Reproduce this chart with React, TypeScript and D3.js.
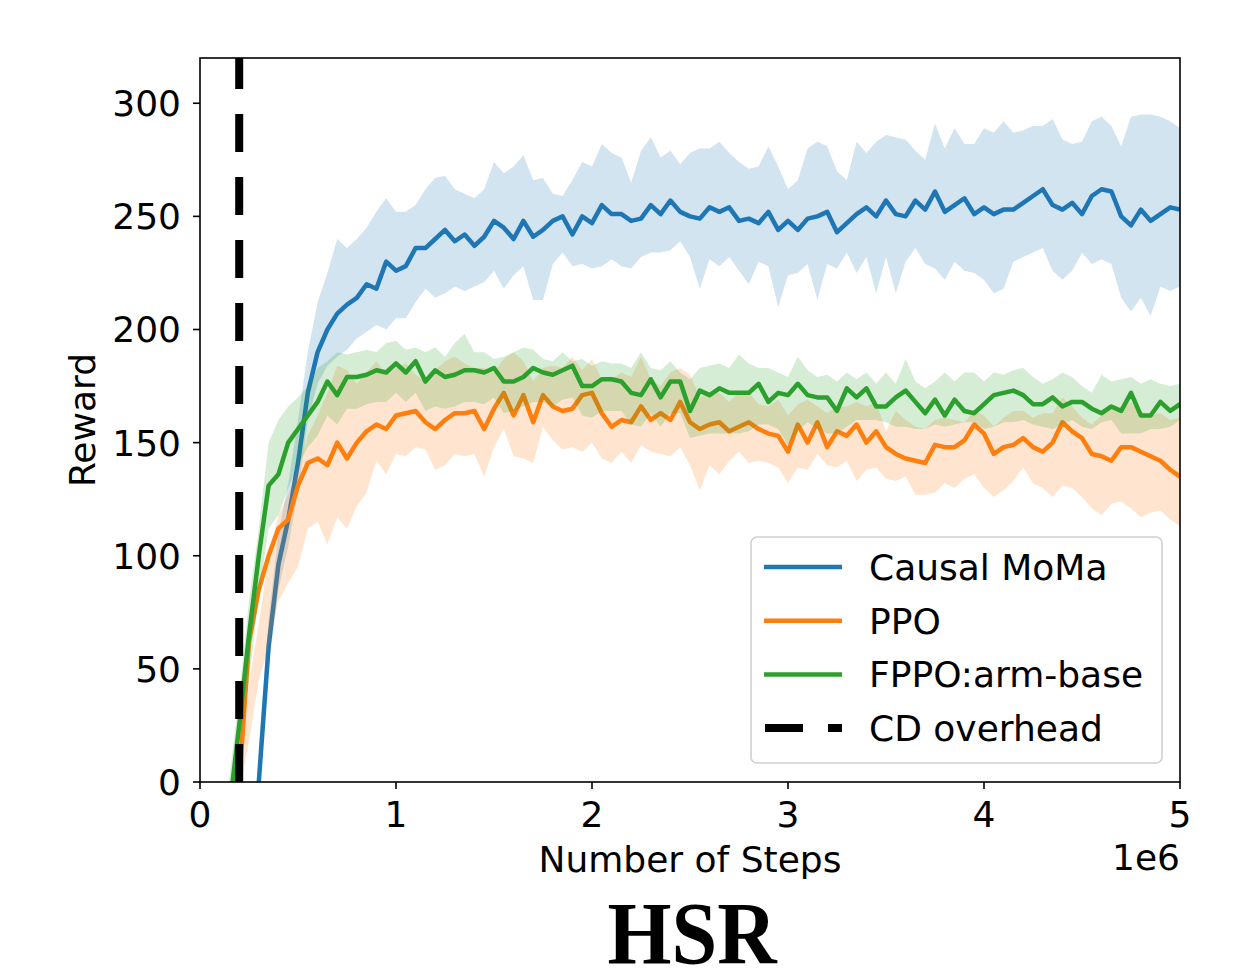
import { scaleLinear, line, area, range } from "d3";

const width = 1234;
const height = 970;
const margin = { left: 200, right: 54, top: 58, bottom: 188 };
const innerW = width - margin.left - margin.right;
const innerH = height - margin.top - margin.bottom;

// x grid: 0.15e6 .. 5.0e6 every 0.05e6 (98 points)
const steps = range(98).map((i) => (0.15 + i * 0.05) * 1e6);

const moMaMean = [
  null, null, null,
  0, 60, 96, 116, 141, 172, 190, 200, 207, 211, 214, 220, 218, 230, 226,
  228, 236, 236, 240, 244, 239, 242, 237, 241, 248,
  245, 240, 248, 241, 244, 248, 250, 242, 250, 247,
  255, 251, 251, 248, 249, 255, 251, 257, 252, 250,
  249, 254, 252, 254, 248, 249, 247, 252, 244, 248,
  244, 249, 250, 252, 243, 247, 251, 254, 250, 257,
  251, 250, 257, 253, 261, 252, 255, 258, 251, 254,
  251, 253, 253, 256, 259, 262, 255, 253, 256, 251,
  259, 262, 261, 250, 246, 253, 248, 251, 254, 253,
];
const moMaUpper = [
  null, null, null,
  15, 72, 110, 132, 160, 190, 212, 225, 240, 236, 240, 245, 252, 258, 252,
  252, 255, 262, 267, 268, 262, 260, 258, 262, 274,
  269, 272, 277, 266, 267, 260, 259, 266, 274, 272,
  282, 278, 276, 265, 279, 285, 276, 279, 273, 278,
  280, 280, 283, 278, 274, 271, 272, 281, 272, 262,
  266, 280, 283, 281, 270, 266, 283, 278, 283, 286,
  285, 284, 279, 275, 291, 280, 289, 282, 282, 289,
  287, 292, 287, 288, 290, 290, 293, 284, 282, 283,
  292, 294, 290, 281, 294, 295, 295, 294, 292, 289,
];
const moMaLower = [
  null, null, null,
  -5, 50, 85, 104, 128, 160, 176, 184, 188, 191, 196, 199, 202, 200, 205,
  205, 212, 218, 214, 216, 219, 217, 219, 221, 226,
  218, 224, 228, 213, 213, 229, 234, 228, 229, 227,
  228, 231, 228, 227, 232, 234, 234, 235, 239, 232,
  218, 231, 228, 232, 226, 220, 230, 228, 210, 224,
  225, 229, 213, 229, 227, 234, 225, 232, 216, 232,
  216, 230, 236, 229, 227, 222, 230, 226, 225, 222,
  216, 218, 230, 232, 234, 236, 226, 222, 226, 234,
  229, 231, 229, 214, 208, 214, 206, 219, 217, 219,
];

const ppoMean = [
  null,
  0, 62, 85, 100, 112, 116, 131,
  141, 143, 140, 150, 143, 150, 155, 158, 156, 162,
  163, 164, 159, 156, 160, 163, 163, 164, 156, 165,
  172, 162, 171, 159, 171, 166, 164, 165, 171, 172,
  163, 157, 160, 159, 166, 160, 163, 160, 168, 159,
  156, 158, 159, 155, 157, 159, 156, 154, 153, 146,
  158, 150, 159, 148, 155, 153, 158, 150, 155, 148,
  145, 143, 142, 141, 149, 148, 148, 151, 158, 154,
  145, 148, 149, 152, 148, 146, 150, 159, 155, 152,
  145, 144, 142, 148, 148, 146, 144, 142, 138, 135,
];
const ppoUpper = [
  null,
  8, 44, 70, 100, 118, 127, 139,
  153, 162, 172, 184, 182, 176, 181, 186, 180, 183,
  185, 180, 177, 182, 186, 188, 185, 183, 183, 181,
  187, 190, 186, 177, 183, 184, 183, 188, 182, 187,
  178, 178, 181, 179, 188, 178, 175, 181, 183, 180,
  170, 172, 172, 168, 172, 172, 167, 166, 169, 162,
  167, 169, 166, 163, 166, 166, 168, 166, 168, 155,
  164, 160, 157, 156, 160, 161, 160, 159, 164, 162,
  157, 161, 164, 164, 161, 163, 163, 170, 166, 161,
  158, 162, 165, 166, 168, 164, 162, 163, 160, 161,
];
const ppoLower = [
  null,
  -5, 18, 45, 60, 80, 88, 95,
  112, 115, 105, 117, 112, 122, 128, 142, 136, 145,
  144, 148, 147, 138, 140, 145, 144, 145, 135, 148,
  156, 144, 143, 141, 157, 151, 147, 148, 146, 150,
  143, 141, 146, 141, 149, 146, 145, 144, 148, 140,
  129, 140, 136, 142, 146, 141, 142, 141, 139, 132,
  139, 138, 145, 140, 139, 142, 133, 138, 139, 134,
  133, 135, 127, 127, 128, 132, 130, 134, 136, 130,
  126, 129, 133, 139, 132, 130, 126, 131, 130, 126,
  121, 118, 123, 124, 121, 117, 119, 120, 116, 113,
];

const fppoMean = [
  -12, 25, 65, 100, 131, 136, 150, 156,
  162, 168, 177, 171, 179, 179, 180, 182, 181, 185,
  181, 186, 177, 182, 179, 180, 182, 182, 181, 183,
  177, 177, 179, 183, 181, 180, 182, 184, 175, 175,
  178, 178, 177, 172, 171, 178, 170, 177, 177, 164,
  173, 171, 174, 172, 172, 172, 176, 168, 172, 171,
  176, 171, 170, 170, 164, 174, 170, 174, 166, 166,
  170, 173, 168, 163, 169, 162, 169, 164, 163, 167,
  171, 172, 173, 171, 167, 167, 170, 166, 168, 168,
  165, 163, 166, 164, 172, 162, 162, 168, 164, 167,
];
const fppoUpper = [
  2, 38, 80, 112, 150, 160, 166, 170,
  175, 183, 186, 190, 189, 190, 191, 190, 194, 195,
  191, 192, 190, 192, 188, 194, 198, 190, 190, 187,
  188, 190, 192, 191, 187, 186, 190, 186, 187, 184,
  186, 185, 185, 183, 190, 183, 182, 186, 181, 178,
  183, 184, 185, 183, 189, 185, 183, 183, 181, 179,
  188, 182, 179, 180, 177, 181, 178, 181, 176, 181,
  176, 187, 177, 174, 177, 181, 177, 181, 181, 177,
  181, 180, 182, 183, 179, 176, 178, 181, 179, 175,
  172, 180, 177, 178, 179, 176, 178, 176, 175, 176,
];
const fppoLower = [
  -20, 12, 45, 82, 112, 118, 130, 140,
  148, 153, 162, 158, 165, 165, 167, 168, 168, 172,
  168, 172, 164, 166, 165, 166, 168, 168, 167, 170,
  163, 164, 166, 168, 168, 166, 169, 170, 162, 161,
  164, 164, 164, 158, 157, 163, 157, 163, 163, 152,
  153, 154, 154, 154, 154, 155, 158, 158, 156, 149,
  155, 159, 156, 154, 154, 157, 160, 160, 160, 159,
  157, 157, 156, 156, 158, 157, 158, 159, 159, 156,
  157, 159, 159, 160, 158, 157, 156, 158, 160, 157,
  156, 159, 160, 154, 154, 154, 156, 156, 157, 160,
];

const cdOverhead = 0.2e6;

const xTicks = [0, 1e6, 2e6, 3e6, 4e6, 5e6];
const xTickLabels = ["0", "1", "2", "3", "4", "5"];
const yTicks = [0, 50, 100, 150, 200, 250, 300];

const series = [
  { name: "Causal MoMa", color: "#1f77b4", mean: moMaMean, upper: moMaUpper, lower: moMaLower },
  { name: "PPO", color: "#ff7f0e", mean: ppoMean, upper: ppoUpper, lower: ppoLower },
  { name: "FPPO:arm-base", color: "#2ca02c", mean: fppoMean, upper: fppoUpper, lower: fppoLower },
];

const x = scaleLinear().domain([0, 5e6]).range([0, innerW]);
const y = scaleLinear().domain([0, 320]).range([innerH, 0]);

const font = "DejaVu Sans, sans-serif";

const App = () => {
  return (
    <svg
      width={width}
      height={height}
      style={{ position: "absolute", left: 0, top: 0, background: "#fff" }}
    >
      <defs>
        <clipPath id="plot">
          <rect x={0} y={0} width={innerW} height={innerH} />
        </clipPath>
      </defs>
      <g transform={`translate(${margin.left},${margin.top})`}>
        <g clipPath="url(#plot)">
          {series.map((s) => {
            const pts = steps.map((t, i) => ({ t, m: s.mean[i], u: s.upper[i], l: s.lower[i] }));
            const band = area<any>()
              .defined((d) => d.m != null)
              .x((d) => x(d.t))
              .y0((d) => y(d.l))
              .y1((d) => y(d.u));
            const ln = line<any>()
              .defined((d) => d.m != null)
              .x((d) => x(d.t))
              .y((d) => y(d.m));
            return (
              <g key={s.name}>
                <path d={ln(pts) || ""} fill="none" stroke={s.color} strokeWidth={4.5} strokeLinejoin="round" />
                <path d={band(pts) || ""} fill={s.color} fillOpacity={0.2} stroke="none" />
              </g>
            );
          })}
          <line
            x1={x(cdOverhead)}
            x2={x(cdOverhead)}
            y1={innerH}
            y2={0}
            stroke="#000"
            strokeWidth={8}
            strokeDasharray="38,25"
          />
        </g>

        {/* frame */}
        <rect x={0} y={0} width={innerW} height={innerH} fill="none" stroke="#000" strokeWidth={1.6} />

        {/* x axis */}
        {xTicks.map((t, i) => (
          <g key={t} transform={`translate(${x(t)},${innerH})`}>
            <line y1={0} y2={7} stroke="#000" strokeWidth={1.6} />
            <text y={45} textAnchor="middle" fontFamily={font} fontSize={36}>
              {xTickLabels[i]}
            </text>
          </g>
        ))}
        <text x={innerW / 2} y={innerH + 90} textAnchor="middle" fontFamily={font} fontSize={36}>
          Number of Steps
        </text>
        <text x={innerW} y={innerH + 88} textAnchor="end" fontFamily={font} fontSize={36}>
          1e6
        </text>

        {/* y axis */}
        {yTicks.map((t) => (
          <g key={t} transform={`translate(0,${y(t)})`}>
            <line x1={0} x2={-7} stroke="#000" strokeWidth={1.6} />
            <text x={-19} dy="0.36em" textAnchor="end" fontFamily={font} fontSize={36}>
              {t}
            </text>
          </g>
        ))}
        <text
          transform={`translate(${-105},${innerH / 2}) rotate(-90)`}
          textAnchor="middle"
          fontFamily={font}
          fontSize={36}
        >
          Reward
        </text>

        {/* legend */}
        <g transform={`translate(${551},${479})`}>
          <rect x={0} y={0} width={411} height={226} rx={6} fill="#fff" fillOpacity={0.8} stroke="#d0d0d0" strokeWidth={1.6} />
          {series.map((s, i) => (
            <g key={s.name} transform={`translate(0,${30 + i * 53.7})`}>
              <line x1={13} x2={91} stroke={s.color} strokeWidth={4.5} />
              <text x={118} dy="0.36em" fontFamily={font} fontSize={36}>
                {s.name}
              </text>
            </g>
          ))}
          <g transform={`translate(0,${30 + 3 * 53.7})`}>
            <line x1={14} x2={91} stroke="#000" strokeWidth={8} strokeDasharray="38,25" />
            <text x={118} dy="0.36em" fontFamily={font} fontSize={36}>
              CD overhead
            </text>
          </g>
        </g>
      </g>

      <text
        transform={`translate(692,963) scale(0.935,1)`}
        textAnchor="middle"
        fontFamily="Liberation Serif, Times New Roman, serif"
        fontWeight="bold"
        fontSize={88}
      >
        HSR
      </text>
    </svg>
  );
};

export default App;
